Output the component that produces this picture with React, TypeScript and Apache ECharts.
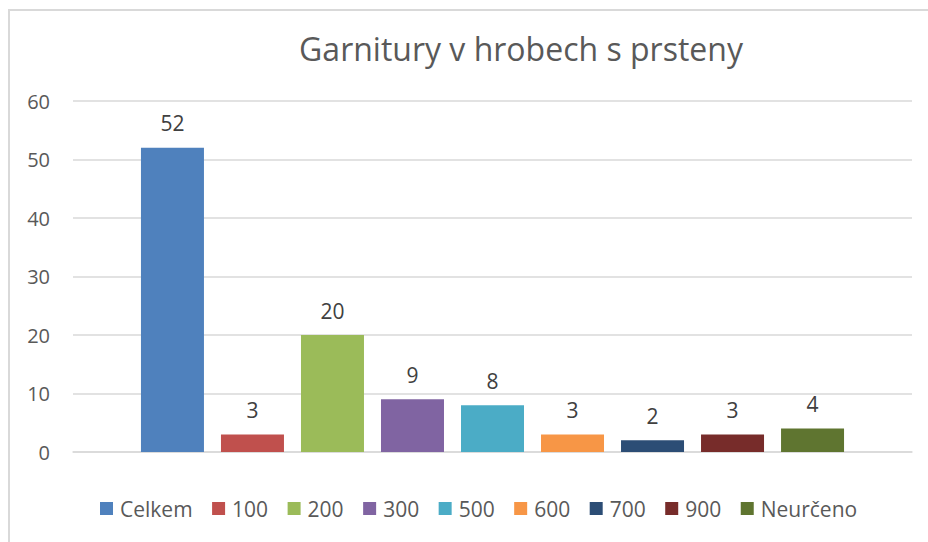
import React, { useEffect, useRef } from "react";
import * as echarts from "echarts";

const seriesNames = ["Celkem", "100", "200", "300", "500", "600", "700", "900", "Neurčeno"];
const seriesValues = [52, 3, 20, 9, 8, 3, 2, 3, 4];
const seriesColors = ["#4F81BD", "#C0504D", "#9BBB59", "#8064A2", "#4BACC6", "#F79646", "#2C4D75", "#772C2A", "#5F7530"];
const categories = [""];
const titleText = "Garnitury v hrobech s prsteny";

const FONT = "'Open Sans', sans-serif";

export default function App() {
  const ref = useRef<HTMLDivElement>(null);
  useEffect(() => {
    if (!ref.current) return;
    const chart = echarts.init(ref.current, undefined, { renderer: "svg" });
    chart.setOption({
      animation: false,
      backgroundColor: "#ffffff",
      title: {
        text: titleText,
        left: 516,
        top: 27,
        textAlign: "center",
        textStyle: { fontFamily: FONT, fontSize: 32, fontWeight: "normal", color: "#595959" },
      },
      graphic: [
        {
          type: "rect",
          shape: { x: 9, y: 10, width: 1200, height: 1200 },
          style: { fill: "none", stroke: "#d9d9d9", lineWidth: 2 },
          silent: true,
        },
      ],
      legend: {
        left: 100,
        top: 498,
        padding: 0,
        itemWidth: 13,
        itemHeight: 13,
        itemGap: 19.5,
        icon: "rect",
        textStyle: { fontFamily: FONT, fontSize: 21, color: "#595959", padding: [0, 0, 0, 2] },
        data: seriesNames,
      },
      grid: { left: 73, right: 16, top: 101, bottom: 90, containLabel: false },
      xAxis: {
        type: "category",
        data: categories,
        axisTick: { show: false },
        axisLabel: { show: false },
        axisLine: { show: true, lineStyle: { color: "#d9d9d9", width: 1.5 } },
      },
      yAxis: {
        type: "value",
        min: 0,
        max: 60,
        interval: 10,
        axisLine: { show: false },
        axisTick: { show: false },
        axisLabel: { fontFamily: FONT, fontSize: 20, color: "#595959", margin: 23 },
        splitLine: { lineStyle: { color: "#d9d9d9", width: 1.5 } },
      },
      series: seriesNames.map((name, i) => ({
        name,
        type: "bar",
        data: [seriesValues[i]],
        barWidth: 63,
        barGap: "27%",
        itemStyle: { color: seriesColors[i] },
        label: {
          show: true,
          position: "top",
          distance: 14,
          fontFamily: FONT,
          fontSize: 21,
          color: "#404040",
        },
      })),
    });
    return () => chart.dispose();
  }, []);
  return (
    <div
      ref={ref}
      style={{ position: "absolute", left: 0, top: 0, width: 928, height: 542 }}
    />
  );
}
